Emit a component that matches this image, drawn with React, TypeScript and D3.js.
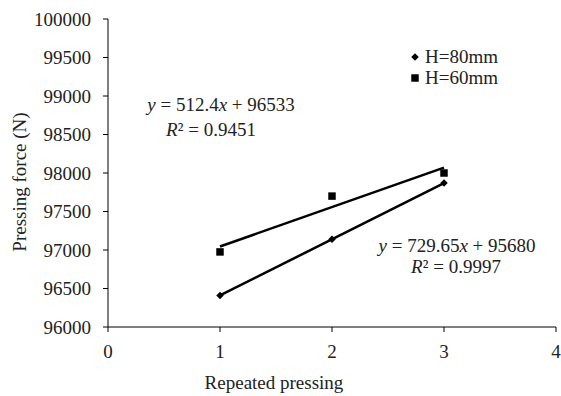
import React from "react";
import * as d3 from "d3";

const xValues = [1, 2, 3];
const h80 = [96410, 97140, 97870];
const h60 = [96975, 97700, 98000];
const xTicks = [0, 1, 2, 3, 4];
const yTicks = [96000, 96500, 97000, 97500, 98000, 98500, 99000, 99500, 100000];
const fit80 = { slope: 729.65, intercept: 95680, r2: "0.9997", label: "729.65", c: "95680" };
const fit60 = { slope: 512.4, intercept: 96533, r2: "0.9451", label: "512.4", c: "96533" };

const W = 561;
const H = 396;
const FONT = "'Liberation Serif', 'Times New Roman', serif";

export default function App() {
  const x = d3.scaleLinear().domain([0, 4]).range([108, 556]);
  const y = d3.scaleLinear().domain([96000, 100000]).range([327, 19]);

  const fitLine = (f: { slope: number; intercept: number }) =>
    d3
      .line<number>()
      .x((d) => x(d))
      .y((d) => y(f.slope * d + f.intercept))([1, 3]) || "";

  const diamond = d3.symbol().type(d3.symbolDiamond2).size(36)() || "";
  const square = d3.symbol().type(d3.symbolSquare).size(56)() || "";

  return (
    <svg
      width={W}
      height={H}
      style={{ position: "absolute", left: 0, top: 0, background: "#fff" }}
      fontFamily={FONT}
      fontSize={19}
    >
      <rect x={0} y={0} width={W} height={H} fill="#fff" />
      {/* axes */}
      <line x1={x(0)} x2={x(0)} y1={y(100000)} y2={y(96000)} stroke="#000" strokeWidth={1} />
      <line x1={x(0)} x2={x(4)} y1={y(96000)} y2={y(96000)} stroke="#000" strokeWidth={1} />
      {yTicks.map((t) => (
        <g key={"y" + t}>
          <line x1={x(0) - 5} x2={x(0)} y1={y(t)} y2={y(t)} stroke="#000" />
          <text x={x(0) - 17} y={y(t)} dy="0.35em" textAnchor="end" fill="#222">
            {t}
          </text>
        </g>
      ))}
      {xTicks.map((t) => (
        <g key={"x" + t}>
          <line x1={x(t)} x2={x(t)} y1={y(96000)} y2={y(96000) + 5} stroke="#000" />
          <text x={x(t)} y={y(96000) + 31} textAnchor="middle" fill="#222">
            {t}
          </text>
        </g>
      ))}
      <text x={274} y={389} textAnchor="middle" fill="#222">
        Repeated pressing
      </text>
      <text
        transform={`translate(26,${182}) rotate(-90)`}
        textAnchor="middle"
        fill="#222"
      >
        Pressing force (N)
      </text>

      {/* trendlines */}
      <path d={fitLine(fit80)} stroke="#000" strokeWidth={2.5} fill="none" />
      <path d={fitLine(fit60)} stroke="#000" strokeWidth={2.5} fill="none" />

      {/* points */}
      {xValues.map((v, i) => (
        <path key={"d" + i} d={diamond} transform={`translate(${x(v)},${y(h80[i])})`} fill="#000" />
      ))}
      {xValues.map((v, i) => (
        <path key={"s" + i} d={square} transform={`translate(${x(v)},${y(h60[i])})`} fill="#000" />
      ))}

      {/* legend */}
      <path d={diamond} transform="translate(415,57)" fill="#000" />
      <text x={425} y={63} fill="#222">H=80mm</text>
      <path d={square} transform="translate(415,78)" fill="#000" />
      <text x={425} y={84} fill="#222">H=60mm</text>

      {/* equations */}
      <text x={221} y={111} textAnchor="middle" fill="#222">
        <tspan fontStyle="italic">y</tspan> = {fit60.label}
        <tspan fontStyle="italic">x</tspan> + {fit60.c}
      </text>
      <text x={211} y={136} textAnchor="middle" fill="#222">
        <tspan fontStyle="italic">R</tspan>² = {fit60.r2}
      </text>
      <text x={457} y={252} textAnchor="middle" fill="#222">
        <tspan fontStyle="italic">y</tspan> = {fit80.label}
        <tspan fontStyle="italic">x</tspan> + {fit80.c}
      </text>
      <text x={456} y={273} textAnchor="middle" fill="#222">
        <tspan fontStyle="italic">R</tspan>² = {fit80.r2}
      </text>
    </svg>
  );
}
